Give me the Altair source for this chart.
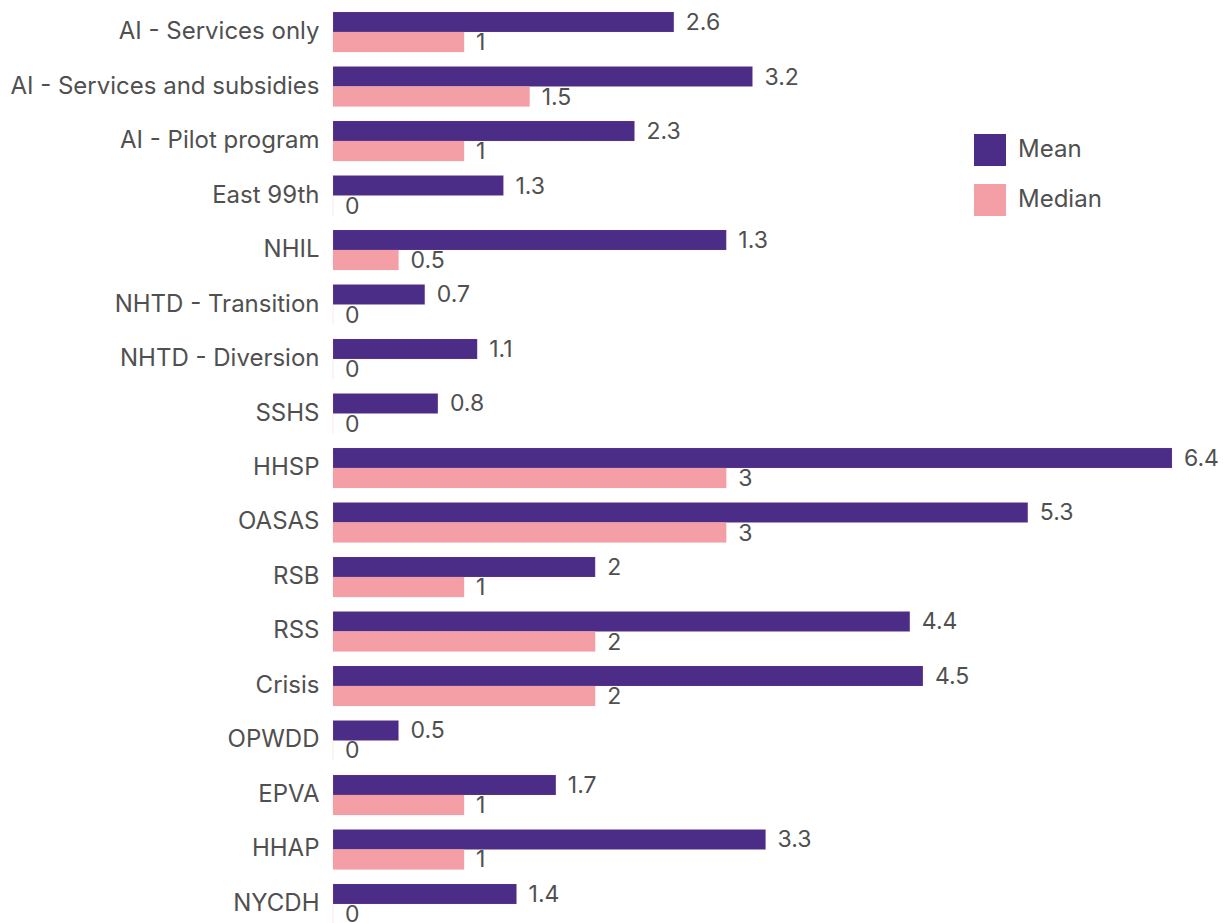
import altair as alt
import pandas as pd

categories = [
    "AI - Services only", "AI - Services and subsidies", "AI - Pilot program",
    "East 99th", "NHIL", "NHTD - Transition", "NHTD - Diversion", "SSHS",
    "HHSP", "OASAS", "RSB", "RSS", "Crisis", "OPWDD", "EPVA", "HHAP", "NYCDH",
]
mean_values = [2.6, 3.2, 2.3, 1.3, 3.0, 0.7, 1.1, 0.8, 6.4, 5.3, 2.0, 4.4, 4.5, 0.5, 1.7, 3.3, 1.4]
mean_labels = ["2.6", "3.2", "2.3", "1.3", "1.3", "0.7", "1.1", "0.8", "6.4", "5.3", "2", "4.4", "4.5", "0.5", "1.7", "3.3", "1.4"]
median_values = [1, 1.5, 1, 0, 0.5, 0, 0, 0, 3, 3, 1, 2, 2, 0, 1, 1, 0]
median_labels = ["1", "1.5", "1", "0", "0.5", "0", "0", "0", "3", "3", "1", "2", "2", "0", "1", "1", "0"]
series = ["Mean", "Median"]
colors = ["#4B2C86", "#F49EA6"]

rows = []
for i, c in enumerate(categories):
    rows.append({"category": c, "series": "Mean", "value": mean_values[i], "label": mean_labels[i]})
    rows.append({"category": c, "series": "Median", "value": median_values[i], "label": median_labels[i]})
df = pd.DataFrame(rows)

FONT = "Inter"
TXT = "#505050"
FS = 24

y = alt.Y("category:N", sort=categories,
          axis=alt.Axis(title=None, domain=False, ticks=False, labelFontSize=FS,
                        labelFont=FONT, labelColor=TXT, labelPadding=14, labelLimit=500),
          scale=alt.Scale(paddingInner=0.266, paddingOuter=0))
yoff = alt.YOffset("series:N", sort=series, scale=alt.Scale(paddingInner=0, paddingOuter=0))
x = alt.X("value:Q", axis=None, scale=alt.Scale(domain=[0, 6.4], nice=False, zero=True))

bars = alt.Chart(df).mark_bar(stroke="#F49EA6", strokeWidth=0.5, strokeOpacity=0.25).encode(
    y=y, yOffset=yoff, x=x,
    color=alt.Color("series:N", scale=alt.Scale(domain=series, range=colors),
                    legend=alt.Legend(title=None, orient="none", legendX=641, legendY=122,
                                      symbolType="square", symbolSize=1024, symbolStrokeWidth=0,
                                      labelFontSize=FS, labelFont=FONT, labelColor=TXT,
                                      labelOffset=12, rowPadding=18, padding=0)),
)

labels = alt.Chart(df).mark_text(align="left", baseline="middle", dx=12, dy=1,
                                  fontSize=23, font=FONT, color=TXT).encode(
    y=y, yOffset=yoff, x=x, text="label:N",
)

chart = (bars + labels).properties(
    width=839, height=912,
    padding={"left": 1, "top": 3, "right": 0, "bottom": 0},
).configure_view(strokeWidth=0)

chart.save("out.html", embed_options={"renderer": "svg", "actions": False})
